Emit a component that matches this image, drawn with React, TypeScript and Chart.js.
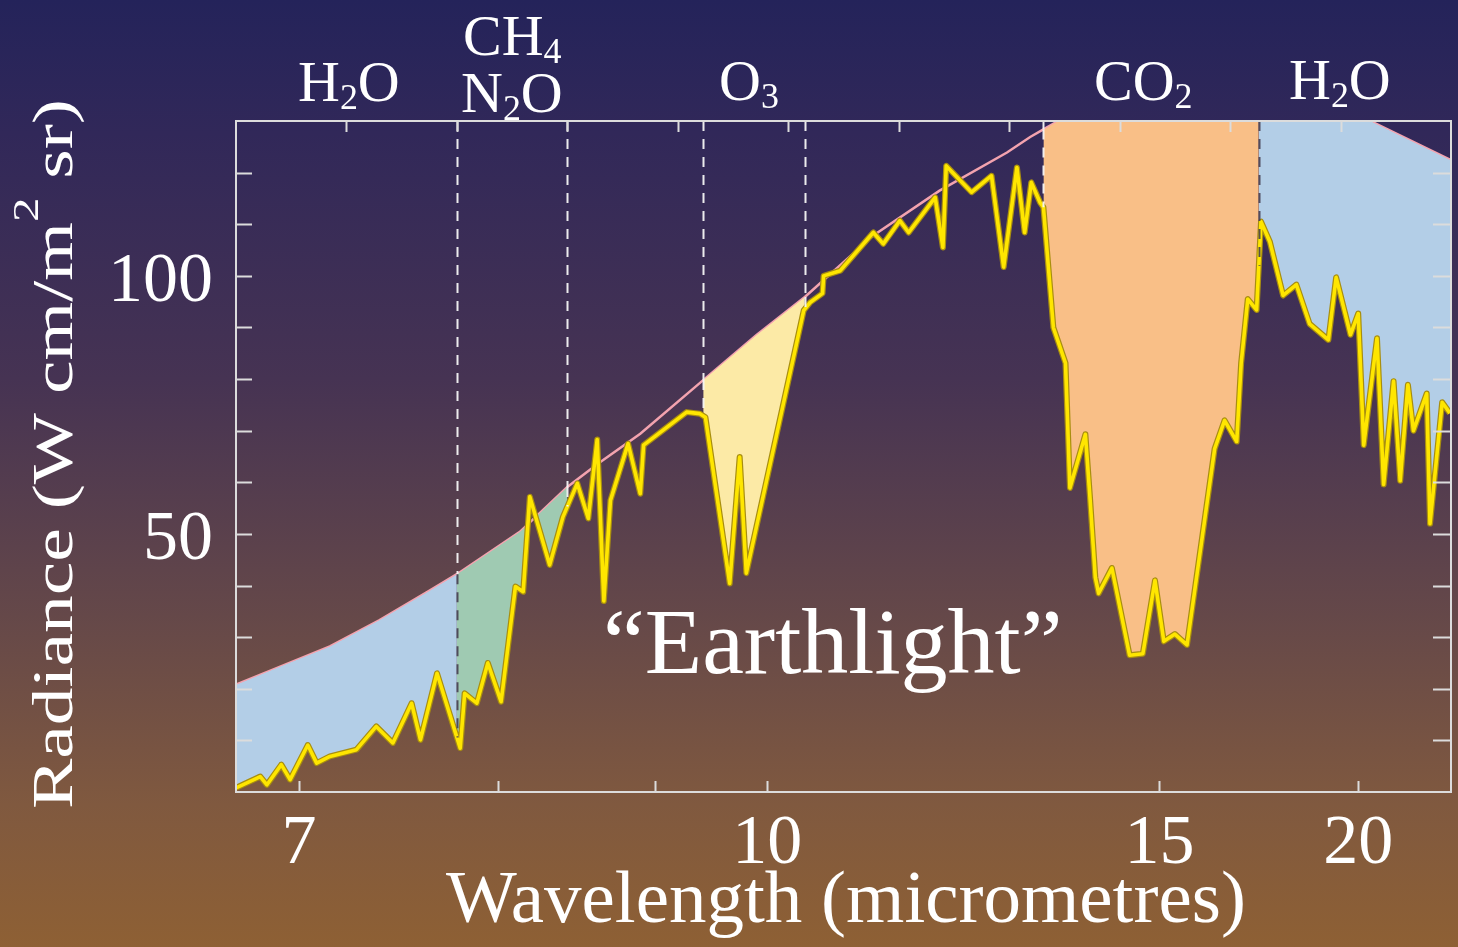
import React, { useEffect, useRef } from "react";
import { Chart, registerables } from "chart.js";

Chart.register(...registerables);

const FONT = '"Liberation Serif", "Times New Roman", Times, serif';

// ---------- data (x = wavenumber, cm^-1, ascending) ----------
const curveNu = [401, 473, 540, 580, 640, 700, 754, 781, 802, 863, 923, 985, 1029, 1077, 1134, 1173, 1200, 1243, 1300, 1324, 1370, 1415, 1460, 1500];
const curveRad = [122.5, 130, 136, 138.5, 139, 136.5, 130.2, 126.9, 123.9, 116.5, 107.8, 95.9, 88.5, 79.8, 69.4, 63.5, 59.1, 50.4, 42.2, 39.1, 33.3, 28.2, 24.3, 20.8];

const specNu = [
  401, 408, 419, 422, 434, 439, 446, 452, 461, 467, 479, 484, 491, 504, 511, 528, 540, 552, 564, 572, 576, 584, 590, 594,
  605, 614, 624, 639, 650, 660, 668, 679, 691, 707, 719, 722, 727, 731, 745, 749, 760, 769, 772, 780, 786, 793, 805, 816,
  834, 857, 860, 867, 891, 899, 914, 923, 953, 968, 969, 980, 986, 1038, 1044, 1053, 1075, 1080, 1092, 1131, 1134, 1145,
  1161, 1167, 1173, 1181, 1191, 1204, 1216, 1234, 1240, 1247, 1260, 1272, 1282, 1293, 1297, 1318, 1333, 1341, 1358, 1373,
  1391, 1415, 1427, 1435, 1451, 1459, 1472, 1478, 1500,
];
const specRad = [
  73.4, 75.5, 52, 77.2, 70, 78.9, 60.3, 79.6, 59.6, 87.9, 67.2, 92.7, 88.6, 99.7, 87.6, 90.7, 98.3, 96.2, 106.6, 110.5, 93.4, 95.5, 83.1, 67.9,
  72, 66.5, 51.3, 28.5, 30.6, 29.2, 41, 26.8, 26.5, 43.4, 38.5, 41.6, 57.5, 69.3, 58.9, 83.1, 90, 113.3, 114.2, 118.1, 108.4, 121, 101.7, 119.4,
  116.2, 121.3, 105.5, 115.2, 108.4, 110.7, 106.2, 108.4, 101, 100, 96.6, 94.9, 93.3, 42.4, 64.9, 40.4, 72.6, 73.3, 73.6, 67.2, 57.8, 67.5,
  56.5, 37, 68.3, 53, 59.8, 53.3, 44, 57.2, 38.8, 39.8, 17.5, 25, 17.2, 19.1, 8.5, 23, 10.1, 17.2, 9.5, 12.7,
  8.2, 6.9, 5.6, 9.1, 2.4, 5.3, 1.4, 3, 0.8,
];

// absorption bands (low / high wavenumber) and band-edge dashed lines
const bandLow = [1300, 1200, 985, 574, 400];
const bandHigh = [1500, 1300, 1077, 769, 574];
const bandEdges = [1300, 1200, 1077, 985, 769, 574];
const doubleSidedEdges = [1300, 574];

// axis ticks
const bottomTickNu = [1443, 1263, 1121, 1019, 664, 484];
const bottomTickLabels = ["7", "", "", "10", "15", "20"];
const topTickNu = [1400, 1300, 1200, 1100, 1000, 900, 800, 700, 600, 500];
const yTickValues = [10, 20, 30, 40, 50, 60, 70, 80, 90, 100, 110, 120];
const yLabelValues = [50, 100];

// texts
const moleculeTexts = ["H_2O", "CH_4", "N_2O", "O_3", "CO_2", "H_2O"];
const annotationText = "\u201CEarthlight\u201D";
const xTitle = "Wavelength (micrometres)";
const yTitle = "Radiance (W cm/m^2 sr)";

// ---------- styles / layout ----------
const bandColors = ["#B3CEE7", "#9FCAB2", "#FCEAA6", "#F9BF87", "#B3CEE7"];
const moleculePos = [
  { x: 298, y: 101 },
  { x: 463, y: 55 },
  { x: 461, y: 112 },
  { x: 719, y: 100 },
  { x: 1094, y: 100 },
  { x: 1289, y: 99 },
];

function interp(xs: number[], ys: number[], x: number) {
  for (let i = 0; i < xs.length - 1; i++) {
    if (x >= xs[i] && x <= xs[i + 1]) {
      const d = xs[i + 1] - xs[i];
      const t = d === 0 ? 0 : (x - xs[i]) / d;
      return ys[i] + t * (ys[i + 1] - ys[i]);
    }
  }
  return x < xs[0] ? ys[0] : ys[ys.length - 1];
}

function bandSegment(lo: number, hi: number) {
  const pts: { x: number; y: number }[] = [{ x: lo, y: interp(specNu, specRad, lo) }];
  specNu.forEach((n, i) => {
    if (n > lo && n < hi) pts.push({ x: n, y: specRad[i] });
  });
  pts.push({ x: hi, y: interp(specNu, specRad, hi) });
  return pts;
}

// curve points plus points on the curve exactly at band edges (so fills stop at the edges)
function curveWithEdges() {
  const set = new Set<number>([...curveNu, ...bandEdges, ...bandLow, ...bandHigh]);
  const all = Array.from(set).sort((a, b) => a - b);
  return all.map((n) => {
    const k = curveNu.indexOf(n);
    return { x: n, y: k >= 0 ? curveRad[k] : interp(curveNu, curveRad, n) };
  });
}

type Part = { t: string; scale: number; dy: number };
function parseRich(s: string): Part[] {
  const parts: Part[] = [];
  for (let i = 0; i < s.length; i++) {
    const c = s[i];
    if (c === "_" && i + 1 < s.length) {
      parts.push({ t: s[i + 1], scale: 0.62, dy: 0.13 });
      i++;
    } else if (c === "^" && i + 1 < s.length) {
      parts.push({ t: s[i + 1], scale: 0.65, dy: -0.6 });
      i++;
    } else {
      const last = parts[parts.length - 1];
      if (last && last.scale === 1) last.t += c;
      else parts.push({ t: c, scale: 1, dy: 0 });
    }
  }
  return parts;
}
function measureRich(ctx: CanvasRenderingContext2D, parts: Part[], size: number) {
  let w = 0;
  for (const p of parts) {
    ctx.font = `${size * p.scale}px ${FONT}`;
    w += ctx.measureText(p.t).width;
  }
  return w;
}
function drawRich(ctx: CanvasRenderingContext2D, parts: Part[], x: number, y: number, size: number) {
  let cx = x;
  for (const p of parts) {
    ctx.font = `${size * p.scale}px ${FONT}`;
    ctx.fillText(p.t, cx, y + p.dy * size);
    cx += ctx.measureText(p.t).width;
  }
}

const overlayPlugin = {
  id: "overlay",
  afterDatasetsDraw(chart: any) {
    const ctx: CanvasRenderingContext2D = chart.ctx;
    const xs = chart.scales.x;
    const ys = chart.scales.y;
    const area = chart.chartArea;
    ctx.save();
    ctx.lineWidth = 2;
    ctx.setLineDash([10, 8]);
    bandEdges.forEach((nu) => {
      const px = Math.round(xs.getPixelForValue(nu)) + 0.5;
      const cY = Math.max(area.top, ys.getPixelForValue(interp(curveNu, curveRad, nu)));
      const sY = ys.getPixelForValue(interp(specNu, specRad, nu));
      ctx.strokeStyle = "rgba(245,245,245,0.95)";
      if (cY > area.top) {
        ctx.beginPath();
        ctx.moveTo(px, area.top);
        ctx.lineTo(px, cY);
        ctx.stroke();
      }
      if (sY > cY) {
        ctx.strokeStyle = doubleSidedEdges.includes(nu) ? "rgba(70,62,80,0.9)" : "rgba(245,245,245,0.95)";
        ctx.beginPath();
        ctx.moveTo(px, cY);
        ctx.lineTo(px, sY);
        ctx.stroke();
      }
    });
    ctx.restore();
  },
  afterDraw(chart: any) {
    const ctx: CanvasRenderingContext2D = chart.ctx;
    const xs = chart.scales.x;
    const ys = chart.scales.y;
    const a = chart.chartArea;
    ctx.save();
    // frame
    ctx.strokeStyle = "#DCDCDC";
    ctx.lineWidth = 2;
    ctx.strokeRect(a.left, a.top, a.right - a.left, a.bottom - a.top);
    // ticks
    ctx.beginPath();
    yTickValues.forEach((v) => {
      const py = Math.round(ys.getPixelForValue(v)) + 0.5;
      ctx.moveTo(a.left, py);
      ctx.lineTo(a.left + 16, py);
      ctx.moveTo(a.right, py);
      ctx.lineTo(a.right - 18, py);
    });
    topTickNu.forEach((n) => {
      const px = Math.round(xs.getPixelForValue(n)) + 0.5;
      ctx.moveTo(px, a.top);
      ctx.lineTo(px, a.top + 11);
    });
    bottomTickNu.forEach((n) => {
      const px = Math.round(xs.getPixelForValue(n)) + 0.5;
      ctx.moveTo(px, a.bottom);
      ctx.lineTo(px, a.bottom - 11);
    });
    ctx.stroke();

    ctx.fillStyle = "#FFFFFF";
    ctx.textBaseline = "alphabetic";
    // tick labels
    ctx.font = `70px ${FONT}`;
    ctx.textAlign = "center";
    bottomTickNu.forEach((n, i) => {
      if (!bottomTickLabels[i]) return;
      ctx.fillText(bottomTickLabels[i], xs.getPixelForValue(n), a.bottom + 71);
    });
    ctx.textAlign = "right";
    yLabelValues.forEach((v) => {
      ctx.fillText(String(v), a.left - 23, ys.getPixelForValue(v) + 25);
    });
    ctx.textAlign = "left";
    // x title
    ctx.font = `75px ${FONT}`;
    ctx.fillText(xTitle, 446, 922);
    // y title (rotated, stretched along its length)
    const yParts = parseRich(yTitle);
    const ySize = 56;
    const natural = measureRich(ctx, yParts, ySize);
    ctx.save();
    ctx.translate(72, 809);
    ctx.rotate(-Math.PI / 2);
    ctx.scale(710 / natural, 1);
    drawRich(ctx, yParts, 0, 0, ySize);
    ctx.restore();
    // molecule labels
    moleculeTexts.forEach((m, i) => {
      drawRich(ctx, parseRich(m), moleculePos[i].x, moleculePos[i].y, 58);
    });
    // annotation
    ctx.font = `94px ${FONT}`;
    ctx.fillText(annotationText, 603, 673);
    ctx.restore();
  },
};

export default function App() {
  const ref = useRef<HTMLCanvasElement | null>(null);
  useEffect(() => {
    if (!ref.current) return;
    const curveData = curveWithEdges();
    const specData = specNu.map((n, i) => ({ x: n, y: specRad[i] }));
    const CURVE_INDEX = 2 + bandLow.length;
    const bandSets = bandLow.map((lo, i) => ({
      data: bandSegment(lo, bandHigh[i]),
      borderWidth: 0,
      borderColor: "rgba(0,0,0,0)",
      pointRadius: 0,
      tension: 0,
      fill: { target: CURVE_INDEX, above: "rgba(0,0,0,0)", below: bandColors[i] },
    }));
    const chart = new Chart(ref.current, {
      type: "line",
      data: {
        datasets: [
          { data: specData, borderColor: "#FFE600", borderWidth: 3.6, pointRadius: 0, tension: 0, fill: false, borderJoinStyle: "round" },
          { data: specData, borderColor: "#A88E10", borderWidth: 6, pointRadius: 0, tension: 0, fill: false, borderJoinStyle: "round" },
          ...bandSets,
          { data: curveData, borderColor: "#F3A3AF", borderWidth: 2.5, pointRadius: 0, tension: 0, fill: false, clip: 0 },
        ] as any,
      },
      options: {
        responsive: false,
        animation: false,
        events: [],
        layout: { padding: { left: 236, top: 121, right: 7, bottom: 155 } },
        scales: {
          x: { type: "linear", min: 400, max: 1500, reverse: true, display: false },
          y: { type: "linear", min: 0, max: 130, display: false },
        },
        plugins: { legend: { display: false }, tooltip: { enabled: false } },
      } as any,
      plugins: [overlayPlugin],
    });
    return () => chart.destroy();
  }, []);

  return (
    <div
      style={{
        position: "fixed",
        left: 0,
        top: 0,
        width: 1458,
        height: 947,
        background:
          "linear-gradient(to bottom, #24235A 0%, #312859 14%, #463353 40%, #654849 65%, #80593F 85%, #8E6034 100%)",
      }}
    >
      <canvas ref={ref} width={1458} height={947} style={{ display: "block" }} />
    </div>
  );
}
